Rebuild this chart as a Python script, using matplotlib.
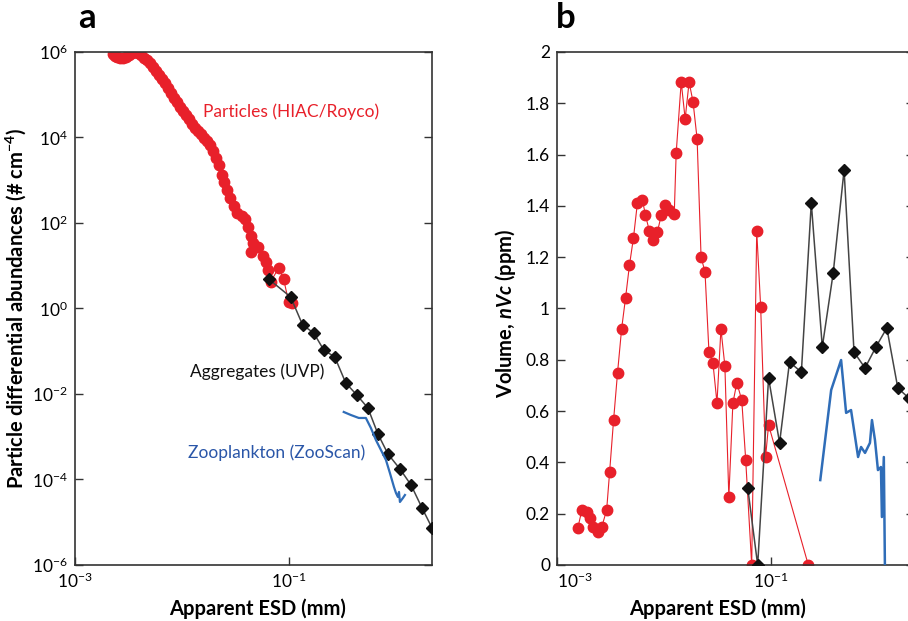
import numpy as np
import matplotlib.pyplot as plt
from matplotlib.ticker import FixedLocator, FuncFormatter, NullLocator

plt.rcParams['font.family'] = ['Lato', 'DejaVu Sans']
plt.rcParams['mathtext.fontset'] = 'custom'
plt.rcParams['mathtext.rm'] = 'Lato'
plt.rcParams['mathtext.it'] = 'Lato:italic:bold'
plt.rcParams['mathtext.bf'] = 'Lato:bold'

RED = "#e8202a"
BLUE = "#2f6db8"
BLUE_TXT = "#2a56a8"
BLACK = "#111111"
SPINE = "#333333"

# -----------------------------
# Panel a: size spectra (log10 ESD in mm, log10 abundance in # cm^-4)
# -----------------------------
particle_log_esd = [
    -2.643, -2.624, -2.606, -2.577, -2.549, -2.521, -2.493, -2.465, -2.437,
    -2.408, -2.380, -2.352, -2.324, -2.296, -2.268, -2.239, -2.211, -2.183,
    -2.155, -2.127, -2.099, -2.070, -2.042, -2.014, -1.986, -1.958, -1.930,
    -1.901, -1.873, -1.845, -1.817, -1.789, -1.761, -1.732, -1.704, -1.676,
    -1.648, -1.620, -1.601, -1.573, -1.545, -1.516, -1.479, -1.441, -1.404,
    -1.385, -1.357, -1.329, -1.357, -1.291, -1.244, -1.216, -1.197, -1.169,
    -1.094, -1.047, -1.000, -0.972,
]
particle_log_abund = [
    5.953, 5.906, 5.883, 5.860, 5.860, 5.883, 5.930, 5.977, 6.000,
    5.977, 5.930, 5.860, 5.813, 5.743, 5.649, 5.556, 5.462, 5.368,
    5.275, 5.158, 5.041, 4.924, 4.830, 4.713, 4.620, 4.526, 4.433,
    4.316, 4.222, 4.152, 4.082, 3.988, 3.918, 3.825, 3.684, 3.520,
    3.357, 3.123, 2.959, 2.772, 2.585, 2.398, 2.234, 2.164, 2.094,
    1.906, 1.696, 1.532, 1.322, 1.439, 1.228, 1.088, 0.901, 0.620,
    0.947, 0.690, 0.152, 0.129,
]

aggregate_log_esd = [
    -1.188, -0.981, -0.869, -0.765, -0.671, -0.568, -0.465, -0.362,
    -0.258, -0.164, -0.070, 0.042, 0.146, 0.249, 0.343,
]
aggregate_log_abund = [
    0.690, 0.269, -0.386, -0.573, -0.971, -1.135, -1.743, -2.023,
    -2.327, -2.936, -3.404, -3.754, -4.129, -4.667, -5.135,
]

zoo_log_esd = [
    -0.484, -0.418, -0.343, -0.277, -0.230, -0.183, -0.136, -0.089,
    -0.052, -0.014, 0.005, 0.023, 0.033, 0.042, 0.070, 0.089,
]
zoo_log_abund = [
    -2.421, -2.491, -2.561, -2.561, -2.795, -3.076, -3.310, -3.544,
    -3.848, -4.175, -4.316, -4.409, -4.292, -4.526, -4.433, -4.363,
]

# -----------------------------
# Panel b: volume spectra (ppm)
# -----------------------------
vol_particle_log_esd = [
    -2.805, -2.767, -2.721, -2.693, -2.665, -2.619, -2.581, -2.535, -2.507,
    -2.470, -2.433, -2.395, -2.358, -2.321, -2.284, -2.247, -2.200, -2.172,
    -2.135, -2.098, -2.060, -2.023, -1.986, -1.949, -1.902, -1.884, -1.837,
    -1.800, -1.763, -1.726, -1.688, -1.651, -1.614, -1.577, -1.540, -1.502,
    -1.465, -1.428, -1.391, -1.353, -1.316, -1.270, -1.233, -1.177, -1.130,
    -1.093, -1.047, -1.019, -0.647,
]
vol_particle = [
    0.144, 0.214, 0.207, 0.183, 0.148, 0.129, 0.148, 0.214, 0.363,
    0.565, 0.749, 0.920, 1.041, 1.170, 1.275, 1.411, 1.423, 1.365,
    1.302, 1.267, 1.298, 1.365, 1.404, 1.384, 1.368, 1.606, 1.883,
    1.739, 1.883, 1.805, 1.661, 1.201, 1.142, 0.830, 0.788, 0.632,
    0.920, 0.776, 0.265, 0.632, 0.710, 0.643, 0.409, 0.0, 1.302,
    1.006, 0.421, 0.546, 0.0,
]

vol_aggregate_log_esd = [
    -1.214, -1.121, -1.019, -0.916, -0.823, -0.712, -0.619, -0.516,
    -0.414, -0.312, -0.219, -0.116, -0.014, 0.088, 0.191, 0.293,
]
vol_aggregate = [
    0.300, 0.0, 0.729, 0.476, 0.791, 0.752, 1.411, 0.850,
    1.138, 1.540, 0.830, 0.768, 0.850, 0.924, 0.690, 0.651,
]

vol_zoo_log_esd = [
    -0.535, -0.433, -0.340, -0.293, -0.247, -0.181, -0.153, -0.116,
    -0.070, -0.051, -0.023, 0.005, 0.033, 0.042, 0.060, 0.070,
]
vol_zoo = [
    0.331, 0.682, 0.799, 0.593, 0.604, 0.421, 0.460, 0.437,
    0.476, 0.565, 0.487, 0.370, 0.382, 0.187, 0.421, 0.0,
]

XLIM = (1e-3, 2.2)
TICK_FS = 12.5
LABEL_FS = 14.5
NOTE_FS = 12.5


def style_axes(ax):
    for sp in ax.spines.values():
        sp.set_color(SPINE)
        sp.set_linewidth(1.2)
    ax.set_xscale("log")
    ax.set_xlim(*XLIM)
    ax.xaxis.set_major_locator(FixedLocator([1e-3, 1e-1]))
    ax.xaxis.set_minor_locator(NullLocator())
    ax.xaxis.set_major_formatter(
        FuncFormatter(lambda v, p: "$10^{%d}$" % int(round(np.log10(v)))))
    ax.tick_params(axis="both", which="major", direction="in", length=6,
                   width=1.0, color=SPINE, labelsize=TICK_FS, right=True, pad=5)


fig = plt.figure(figsize=(9.08, 6.21), dpi=100)
ax1 = fig.add_axes([0.0826, 0.0902, 0.3932, 0.8261])
ax2 = fig.add_axes([0.6134, 0.0902, 0.3932, 0.8261])

# ---- panel a
ax1.plot(10 ** np.array(particle_log_esd), 10 ** np.array(particle_log_abund),
         color=RED, lw=0.8, marker="o", ms=7.5, mec=RED, mfc=RED, zorder=2)
ax1.plot(10 ** np.array(aggregate_log_esd), 10 ** np.array(aggregate_log_abund),
         color="#444444", lw=1.1, marker="D", ms=6.5, mec=BLACK, mfc=BLACK,
         zorder=3)
ax1.plot(10 ** np.array(zoo_log_esd), 10 ** np.array(zoo_log_abund),
         color=BLUE, lw=1.6, zorder=4)
ax1.set_yscale("log")
ax1.set_ylim(1e-6, 1e6)
style_axes(ax1)
ax1.yaxis.set_major_locator(FixedLocator([10.0 ** k for k in range(-6, 7, 2)]))
ax1.yaxis.set_minor_locator(NullLocator())
ax1.yaxis.set_major_formatter(
    FuncFormatter(lambda v, p: "$10^{%d}$" % int(round(np.log10(v)))))

ax1.text(0.3585, 0.883, "Particles (HIAC/Royco)", color=RED, fontsize=NOTE_FS,
         transform=ax1.transAxes, va="center")
ax1.text(0.322, 0.376, "Aggregates (UVP)", color=BLACK, fontsize=NOTE_FS,
         transform=ax1.transAxes, va="center")
ax1.text(0.3165, 0.218, "Zooplankton (ZooScan)", color=BLUE_TXT,
         fontsize=NOTE_FS, transform=ax1.transAxes, va="center")

ax1.set_xlabel("Apparent ESD (mm)", fontsize=LABEL_FS, fontweight="bold")
ax1.xaxis.set_label_coords(0.51, -0.066)
ax1.set_ylabel(r"Particle differential abundances (# cm$^{\mathbf{-4}}$)",
               fontsize=LABEL_FS, fontweight="bold")
ax1.yaxis.set_label_coords(-0.132, 0.5)

# ---- panel b
ax2.plot(10 ** np.array(vol_particle_log_esd), vol_particle,
         color=RED, lw=0.8, marker="o", ms=7.5, mec=RED, mfc=RED, zorder=2)
ax2.plot(10 ** np.array(vol_aggregate_log_esd), vol_aggregate,
         color="#444444", lw=1.1, marker="D", ms=6.5, mec=BLACK, mfc=BLACK,
         zorder=3)
ax2.plot(10 ** np.array(vol_zoo_log_esd), vol_zoo,
         color=BLUE, lw=1.8, zorder=4)
ax2.set_ylim(0, 2)
style_axes(ax2)
ax2.yaxis.set_major_locator(FixedLocator(np.arange(0, 2.01, 0.2)))
ax2.yaxis.set_minor_locator(NullLocator())
ax2.yaxis.set_major_formatter(FuncFormatter(lambda v, p: "%g" % round(v, 1)))

# first x tick label sits just right of the corner so it clears the "0"
ax2.xaxis.get_major_ticks()[0].label1.set_horizontalalignment("left")

ax2.set_xlabel("Apparent ESD (mm)", fontsize=LABEL_FS, fontweight="bold")
ax2.xaxis.set_label_coords(0.451, -0.066)
ax2.set_ylabel("Volume, $nVc$ (ppm)", fontsize=LABEL_FS, fontweight="bold")
ax2.yaxis.set_label_coords(-0.108, 0.49)

fig.text(78 / 908, 1 - 18 / 621, "a", fontsize=25, fontweight="bold",
         va="center", ha="left")
fig.text(556 / 908, 1 - 18 / 621, "b", fontsize=25, fontweight="bold",
         va="center", ha="left")

fig.savefig("out.png", dpi=100)
